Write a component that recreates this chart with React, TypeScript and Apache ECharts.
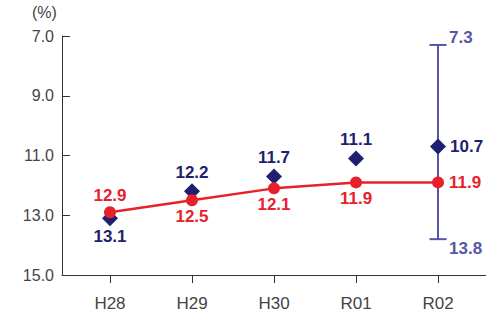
import React, { useEffect, useRef } from "react";
import * as echarts from "echarts";

const categories = ["H28", "H29", "H30", "R01", "R02"];
const redValues = [12.9, 12.5, 12.1, 11.9, 11.9];
const navyValues = [13.1, 12.2, 11.7, 11.1, 10.7];
const redLabelPos = ["top", "bottom", "bottom", "bottom", "right"];
const navyLabelPos = ["bottom", "top", "top", "top", "right"];
const rangeCategory = "R02";
const rangeLow = 7.3;
const rangeHigh = 13.8;
const yTicks = [7, 9, 11, 13, 15];

const RED = "#e8202a";
const NAVY = "#1e1f6e";
const SLATE = "#5656a6";
const AXIS = "#444";
const FONT = "'Liberation Sans', Arial, Helvetica, sans-serif";

export default function App() {
  const ref = useRef<HTMLDivElement>(null);
  useEffect(() => {
    if (!ref.current) return;
    const chart = echarts.init(ref.current, null, { renderer: "svg" });
    const idx = categories.map((_, i) => i);
    const rangeIdx = categories.indexOf(rangeCategory);
    const option: any = {
      animation: false,
      textStyle: { fontFamily: FONT },
      grid: { left: 62, right: 0, top: 36, bottom: 40, containLabel: false },
      graphic: [
        {
          type: "text",
          left: 32,
          top: 4,
          style: { text: "(%)", fontSize: 16, fill: AXIS, fontFamily: FONT },
        },
      ],
      xAxis: {
        type: "value",
        min: -0.585,
        max: 4.585,
        axisLine: { show: true, onZero: false, lineStyle: { color: "#333", width: 1 } },
        axisTick: { show: true, customValues: idx, length: 8, lineStyle: { color: "#333" } },
        axisLabel: {
          customValues: idx,
          formatter: (v: number) => categories[Math.round(v)] ?? "",
          color: AXIS,
          fontSize: 17,
          margin: 20,
          fontFamily: FONT,
        },
        splitLine: { show: false },
      },
      yAxis: {
        type: "value",
        inverse: true,
        min: 7,
        max: 15,
        interval: 2,
        axisLine: { show: true, onZero: false, lineStyle: { color: "#333", width: 1 } },
        axisTick: { show: true, inside: true, length: 8, customValues: yTicks, lineStyle: { color: "#333" } },
        axisLabel: {
          customValues: yTicks,
          formatter: (v: number) => v.toFixed(1),
          color: AXIS,
          fontSize: 16,
          margin: 8,
          fontFamily: FONT,
        },
        splitLine: { show: false },
      },
      series: [
        {
          type: "custom",
          z: 1,
          silent: true,
          data: [[rangeIdx, rangeLow, rangeHigh]],
          renderItem: (params: any, api: any) => {
            const top = api.coord([api.value(0), api.value(1)]);
            const bot = api.coord([api.value(0), api.value(2)]);
            const x = top[0];
            const half = 8.5;
            const ls = { stroke: SLATE, lineWidth: 2 };
            return {
              type: "group",
              children: [
                { type: "line", shape: { x1: x, y1: top[1], x2: x, y2: bot[1] }, style: ls },
                { type: "line", shape: { x1: x - half, y1: top[1], x2: x + half, y2: top[1] }, style: ls },
                { type: "line", shape: { x1: x - half, y1: bot[1], x2: x + half, y2: bot[1] }, style: ls },
                {
                  type: "text",
                  x: x + 11,
                  y: top[1] + 1,
                  style: {
                    text: api.value(1).toFixed(1),
                    fill: SLATE,
                    fontSize: 17,
                    fontWeight: "bold",
                    fontFamily: FONT,
                    verticalAlign: "bottom",
                    align: "left",
                  },
                },
                {
                  type: "text",
                  x: x + 11,
                  y: bot[1] + 1,
                  style: {
                    text: api.value(2).toFixed(1),
                    fill: SLATE,
                    fontSize: 17,
                    fontWeight: "bold",
                    fontFamily: FONT,
                    verticalAlign: "top",
                    align: "left",
                  },
                },
              ],
            };
          },
        },
        {
          type: "scatter",
          z: 2,
          symbol: "diamond",
          symbolSize: [16, 16],
          itemStyle: { color: NAVY, opacity: 1 },
          data: navyValues.map((v, i) => ({
            value: [i, v],
            label: {
              show: true,
              position: navyLabelPos[i],
              distance: navyLabelPos[i] === "right" ? 4 : 2,
              formatter: () => v.toFixed(1),
              color: NAVY,
              fontSize: 17,
              fontWeight: "bold",
              fontFamily: FONT,
            },
          })),
        },
        {
          type: "line",
          z: 3,
          symbol: "circle",
          symbolSize: 12,
          lineStyle: { color: RED, width: 2.5 },
          itemStyle: { color: RED, opacity: 1 },
          data: redValues.map((v, i) => ({
            value: [i, v],
            label: {
              show: true,
              position: redLabelPos[i],
              distance: redLabelPos[i] === "right" ? 5 : 2,
              formatter: () => v.toFixed(1),
              color: RED,
              fontSize: 17,
              fontWeight: "bold",
              fontFamily: FONT,
            },
          })),
        },
      ],
    };
    chart.setOption(option);
    return () => chart.dispose();
  }, []);
  return <div ref={ref} style={{ width: 486, height: 315, position: "absolute", left: 0, top: 0 }} />;
}
